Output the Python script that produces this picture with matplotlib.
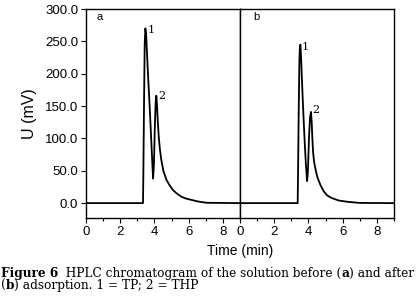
import matplotlib
matplotlib.use("Agg")
import matplotlib.pyplot as plt
from matplotlib.ticker import MultipleLocator, FormatStrFormatter

plt.rcParams['font.family'] = ['Liberation Sans', 'DejaVu Sans']

# chromatogram before adsorption (a)
t_a = [0, 3.33, 3.35, 3.39, 3.43, 3.47, 3.51, 3.56, 3.63, 3.72, 3.80, 3.87, 3.92, 3.97,
       4.02, 4.07, 4.11, 4.15, 4.20, 4.25, 4.32, 4.40, 4.52, 4.70, 4.90, 5.09, 5.30,
       5.57, 5.85, 6.16, 6.55, 7.05, 9.0]
u_a = [0, 0, 40, 150, 245, 270, 262, 235, 195, 150, 105, 65, 38, 60,
       115, 155, 166, 150, 125, 103, 83, 67, 50, 36, 27, 20, 15,
       10, 7, 5, 2.5, 0.5, 0]

# chromatogram after adsorption (b)
t_b = [0, 3.37, 3.39, 3.43, 3.47, 3.50, 3.53, 3.57, 3.62, 3.70, 3.78, 3.85, 3.92, 3.97,
       4.03, 4.09, 4.15, 4.19, 4.23, 4.27, 4.33, 4.40, 4.52, 4.70, 4.90, 5.09, 5.35,
       5.77, 6.30, 7.0, 9.0]
u_b = [0, 0, 40, 140, 220, 242, 245, 225, 190, 140, 95, 60, 34, 50,
       100, 132, 141, 125, 100, 79, 64, 54, 40, 28, 18, 12, 8,
       4, 2, 0.3, 0]

# peak labels (position of number, label)
peaks_a = [(3.82, 268, '1'), (4.44, 166, '2')]
peaks_b = [(3.82, 242, '1'), (4.44, 144, '2')]

fig = plt.figure(figsize=(4.17, 2.99), dpi=100)
L, M, R = 86 / 417, 240 / 417, 394 / 417
B, T = 1 - 218 / 299, 1 - 9 / 299
ax1 = fig.add_axes([L, B, M - L, T - B])
ax2 = fig.add_axes([M, B, R - M, T - B])

for ax, t, u, peaks, tag in [(ax1, t_a, u_a, peaks_a, 'a'), (ax2, t_b, u_b, peaks_b, 'b')]:
    ax.plot(t, u, color='black', lw=1.3)
    ax.set_xlim(0, 9)
    ax.set_ylim(-23, 300)
    ax.xaxis.set_major_locator(MultipleLocator(2))
    ax.xaxis.set_minor_locator(MultipleLocator(1))
    ax.yaxis.set_major_locator(MultipleLocator(50))
    ax.yaxis.set_major_formatter(FormatStrFormatter('%.1f'))
    ax.tick_params(which='major', direction='out', length=3.5, width=0.8, labelsize=9.5, pad=2)
    ax.tick_params(which='minor', direction='out', length=2, width=0.8)
    for s in ax.spines.values():
        s.set_linewidth(1.0)
    ax.text(0.6 if tag == 'a' else 0.77, 288, tag, fontsize=8, ha='left', va='center')
    for x, y, lab in peaks:
        ax.text(x, y, lab, fontsize=8, family='DejaVu Serif', ha='center', va='center')

ax2.tick_params(axis='y', which='both', left=False, labelleft=False)
ax1.set_ylabel('U (mV)', fontsize=11.5, labelpad=6)

fig.text(240 / 417, 1 - 251 / 299, 'Time (min)', fontsize=10, ha='center', va='center')

# caption, bold parts placed one after another
cap = dict(family='DejaVu Serif', fontsize=8.7, va='baseline')
line1 = [('Figure 6', 'bold'), ('  HPLC chromatogram of the solution before (', 'normal'),
         ('a', 'bold'), (') and after', 'normal')]
line2 = [('(', 'normal'), ('b', 'bold'), (') adsorption. 1 = TP; 2 = THP', 'normal')]

r = fig.canvas.get_renderer()
for y, parts in [(1 - 277 / 299, line1), (1 - 289 / 299, line2)]:
    xpos = 1.0
    for txt, w in parts:
        tx = fig.text(xpos / fig.bbox.width, y, txt, fontweight=w, **cap)
        xpos = tx.get_window_extent(r).x1

fig.savefig('out.png', dpi=100)
